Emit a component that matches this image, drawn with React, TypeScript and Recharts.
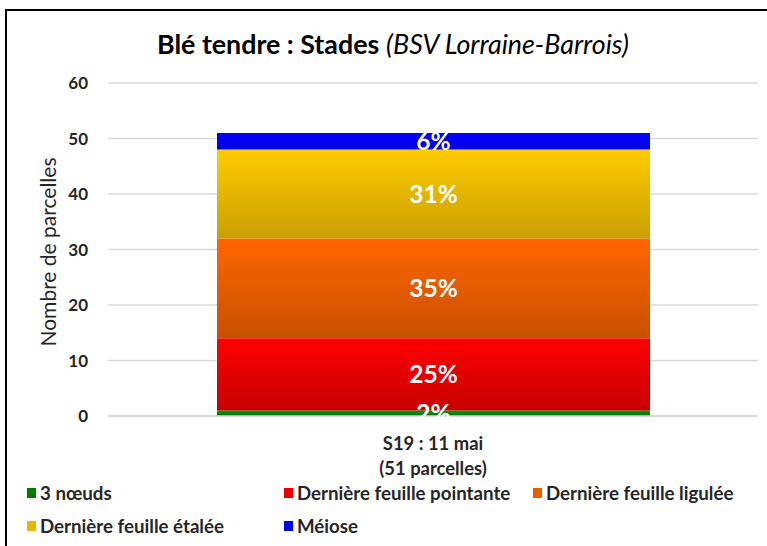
import {
  BarChart,
  Bar,
  XAxis,
  YAxis,
  CartesianGrid,
  LabelList,
  Legend,
} from "recharts";

// week label, split on two lines under the bar
const weekLabels = ["S19 : 11 mai"];
const plotCounts = ["(51 parcelles)"];

// growth stages, bottom to top of the stack
const stages = [
  "3 nœuds",
  "Dernière feuille pointante",
  "Dernière feuille ligulée",
  "Dernière feuille étalée",
  "Méiose",
];
const stageKeys = ["s0", "s1", "s2", "s3", "s4"];
// number of parcels per stage (2%, 25%, 35%, 31%, 6% of 51)
const counts = [1, 13, 18, 16, 3];
const topColors = ["#00a000", "#ff0000", "#ff6600", "#ffcc00", "#0000ff"];
const bottomColors = ["#007000", "#c80000", "#c85000", "#c9a000", "#0000e8"];
const legendColors = ["#007a00", "#ee0000", "#e66000", "#e6b800", "#0000f0"];

const yTicks = [0, 10, 20, 30, 40, 50, 60];

const total = counts.reduce((a, b) => a + b, 0);

const data = weekLabels.map((w, i) => {
  const row: Record<string, string | number> = { week: w, sub: plotCounts[i] };
  stageKeys.forEach((k, j) => {
    row[k] = counts[j];
  });
  return row;
});

const font = "Lato, 'Open Sans', sans-serif";
const textColor = "#262626";

function WeekTick(props: any) {
  const { x, y, payload, index } = props;
  return (
    <g>
      <text
        x={x}
        y={y + 26}
        textAnchor="middle"
        fontFamily={font}
        fontWeight={700}
        fontSize={18.4}
        fill={textColor}
      >
        {payload.value}
      </text>
      <text
        x={x}
        y={y + 51}
        textAnchor="middle"
        fontFamily={font}
        fontWeight={700}
        fontSize={18.4}
        fill={textColor}
      >
        {plotCounts[index] ?? ""}
      </text>
    </g>
  );
}

function StageLegend() {
  const cols = [27, 284, 533];
  return (
    <div style={{ position: "relative", width: 767, height: 60 }}>
      {stages.map((s, i) => {
        const left = i < 3 ? cols[i] : cols[i - 3];
        const top = i < 3 ? 0 : 33;
        return (
          <div
            key={s}
            style={{
              position: "absolute",
              left,
              top,
              display: "flex",
              alignItems: "center",
              fontFamily: font,
              fontWeight: 700,
              fontSize: 18.7,
              lineHeight: "22px",
              color: textColor,
              whiteSpace: "nowrap",
            }}
          >
            <span
              style={{
                display: "inline-block",
                width: 9,
                height: 10,
                marginRight: 4,
                background: legendColors[i],
              }}
            />
            {s}
          </div>
        );
      })}
    </div>
  );
}

export default function App() {
  return (
    <div
      style={{
        position: "absolute",
        left: 0,
        top: 0,
        width: 767,
        height: 546,
        background: "#fff",
        overflow: "hidden",
      }}
    >
      <div
        style={{
          position: "absolute",
          left: 5,
          top: 9,
          width: 780,
          height: 560,
          borderTop: "2px solid #000",
          borderLeft: "2px solid #000",
        }}
      />
      <div
        style={{
          position: "absolute",
          left: 0,
          top: 28,
          width: 786,
          textAlign: "center",
          fontFamily: font,
          fontSize: 26.8,
          lineHeight: "32px",
          color: "#000",
          whiteSpace: "nowrap",
        }}
      >
        <span style={{ fontWeight: 700 }}>Blé tendre : Stades</span>{" "}
        <span style={{ fontStyle: "italic" }}>(BSV Lorraine-Barrois)</span>
      </div>
      <div
        style={{
          position: "absolute",
          left: 47,
          top: 252,
          transform: "translate(-50%, -50%) rotate(-90deg)",
          fontFamily: font,
          fontSize: 21,
          color: textColor,
          whiteSpace: "nowrap",
        }}
      >
        Nombre de parcelles
      </div>
      <BarChart
        width={767}
        height={546}
        data={data}
        margin={{ top: 83, right: 9, left: 48, bottom: 10 }}
        style={{ position: "absolute", left: 0, top: 0 }}
      >
        <defs>
          {stageKeys.map((k, i) => (
            <linearGradient key={k} id={`grad-${k}`} x1="0" y1="0" x2="0" y2="1">
              <stop offset="0%" stopColor={topColors[i]} />
              <stop offset="100%" stopColor={bottomColors[i]} />
            </linearGradient>
          ))}
        </defs>
        <CartesianGrid vertical={false} stroke="#d9d9d9" strokeWidth={1.5} />
        <XAxis
          dataKey="week"
          axisLine={{ stroke: "#d9d9d9", strokeWidth: 1.5 }}
          tickLine={false}
          height={60}
          interval={0}
          tick={<WeekTick />}
        />
        <YAxis
          width={60}
          domain={[0, 60]}
          ticks={yTicks}
          axisLine={false}
          tickLine={false}
          tickMargin={14}
          tick={{
            fontFamily: font,
            fontWeight: 700,
            fontSize: 17,
            fill: textColor,
          }}
        />
        <Legend
          layout="vertical"
          align="center"
          verticalAlign="bottom"
          wrapperStyle={{ left: 0, top: 482, width: 767 }}
          content={() => <StageLegend />}
        />
        {stageKeys.map((k, i) => (
          <Bar
            key={k}
            dataKey={k}
            name={stages[i]}
            stackId="a"
            barSize={433}
            fill={`url(#grad-${k})`}
            isAnimationActive={false}
          >
            <LabelList
              dataKey={k}
              position="center"
              formatter={(v: any) => `${Math.round((Number(v) / total) * 100)}%`}
              fill="#fff"
              fontFamily={font}
              fontWeight={700}
              fontSize={24.5}
            />
          </Bar>
        ))}
      </BarChart>
    </div>
  );
}
